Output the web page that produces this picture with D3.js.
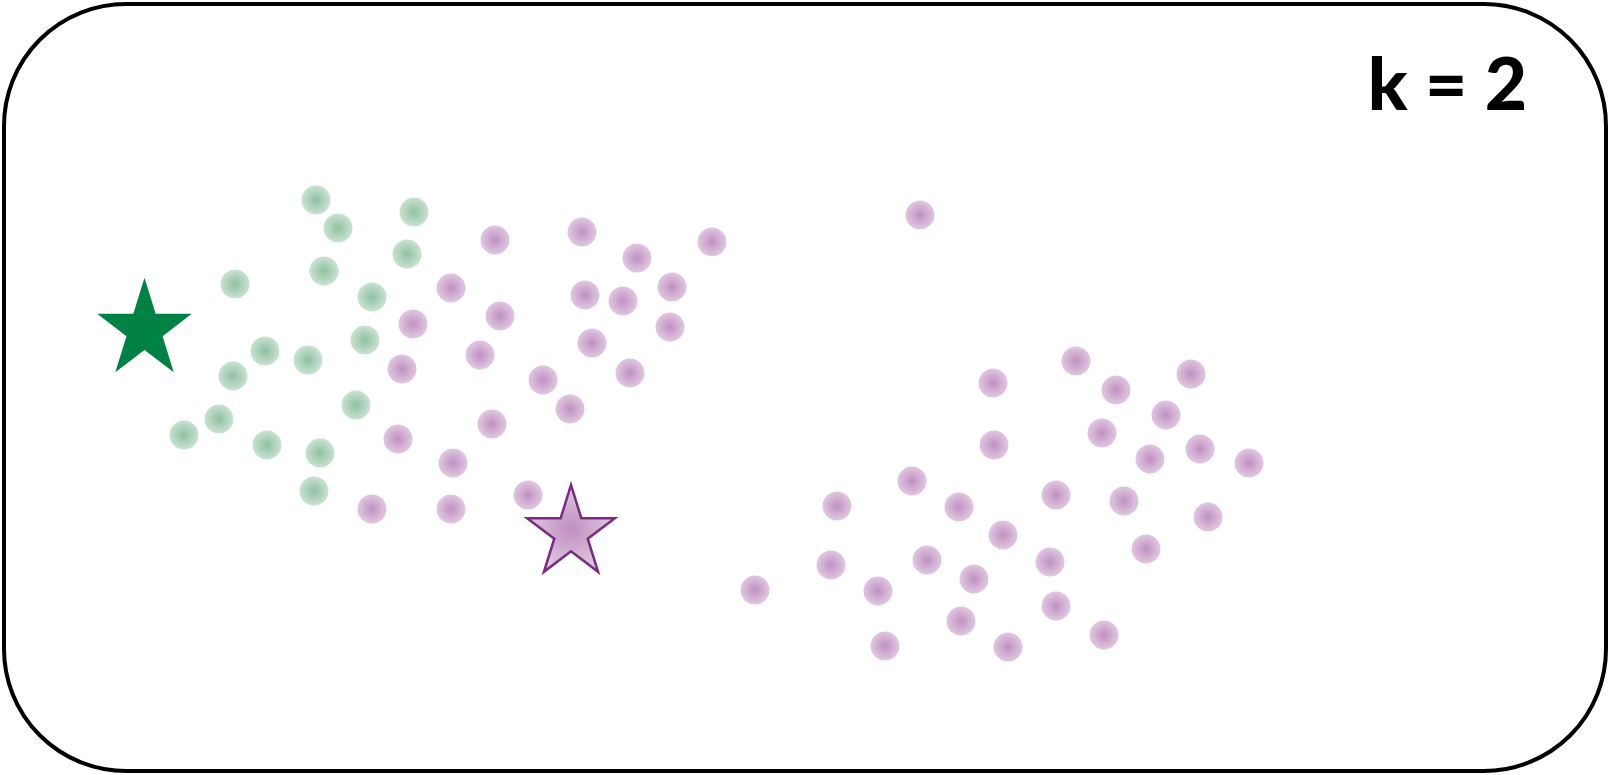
<!DOCTYPE html>
<html>
<head>
<meta charset="utf-8">
<script src="https://cdn.jsdelivr.net/npm/d3@7"></script>
<style>
html,body{margin:0;padding:0;background:#fff;}
svg{display:block;}
</style>
</head>
<body>
<svg id="chart" width="1610" height="775"></svg>
<script>
// Feature space: x from 0 to 16.1, y from 0 to 7.75 (y up)
const clusterA_x = [3.16,3.38,4.14,4.07,3.24,2.35,3.72,3.65,2.65,3.08,2.33,3.56,2.19,1.84,2.67,3.20,3.14];
const clusterA_y = [5.75,5.47,5.63,5.21,5.04,4.91,4.78,4.35,4.24,4.15,3.99,3.70,3.56,3.40,3.30,3.22,2.84];

const clusterB_x = [4.95,5.82,7.12,6.37,4.51,6.72,5.85,6.23,5.00,4.13,6.70,5.92,4.80,4.02,6.30,5.43,5.70,4.92,3.98,4.53,5.28,3.72,4.51,9.20,
  10.76,11.91,9.93,11.16,11.66,11.02,9.94,12.00,11.50,12.49,9.12,10.56,11.24,8.37,9.59,12.08,10.03,11.46,9.27,8.31,10.50,9.74,7.55,8.78,10.56,9.61,11.04,8.85,10.08];
const clusterB_y = [5.35,5.43,5.33,5.17,4.87,4.88,4.80,4.74,4.59,4.51,4.48,4.32,4.20,4.06,4.02,3.95,3.66,3.51,3.36,3.12,2.80,2.66,2.66,5.60,
  4.14,4.01,3.92,3.85,3.60,3.42,3.30,3.26,3.16,3.12,2.94,2.80,2.74,2.69,2.68,2.58,2.40,2.26,2.15,2.10,2.13,1.96,1.85,1.84,1.69,1.54,1.40,1.29,1.28];

const centroids_x = [1.445, 5.71];
const centroids_y = [4.45, 2.42];
const kLabel = "k = 2";

const W = 1610, H = 775;
const svg = d3.select("#chart");
const x = d3.scaleLinear().domain([0, 16.1]).range([0, W]);
const y = d3.scaleLinear().domain([0, 7.75]).range([H, 0]);

const defs = svg.append("defs");
function radial(id, c0, c1) {
  const g = defs.append("radialGradient").attr("id", id)
    .attr("cx", "50%").attr("cy", "50%").attr("r", "50%");
  g.append("stop").attr("offset", "0%").attr("stop-color", c0);
  g.append("stop").attr("offset", "100%").attr("stop-color", c1);
}
radial("gGreen", "#8fc1a2", "#c9e2d2");
radial("gPurple", "#c190c2", "#dfc8e0");
radial("gPurpleStar", "#c08fc1", "#dec8df");

// frame
svg.append("rect")
  .attr("x", 4).attr("y", 4).attr("width", W - 8).attr("height", H - 8)
  .attr("rx", 122).attr("ry", 122)
  .attr("fill", "#fff").attr("stroke", "#000").attr("stroke-width", 4);

const A = clusterA_x.map((v, i) => ({x: v, y: clusterA_y[i]}));
const B = clusterB_x.map((v, i) => ({x: v, y: clusterB_y[i]}));

svg.append("g").selectAll("circle").data(A).join("circle")
  .attr("cx", d => x(d.x)).attr("cy", d => y(d.y)).attr("r", 14.5)
  .attr("fill", "url(#gGreen)");
svg.append("g").selectAll("circle").data(B).join("circle")
  .attr("cx", d => x(d.x)).attr("cy", d => y(d.y)).attr("r", 14.5)
  .attr("fill", "url(#gPurple)");

function starPath(R, r, sx) {
  const pts = [];
  for (let i = 0; i < 10; i++) {
    const a = -Math.PI / 2 + i * Math.PI / 5;
    const rad = i % 2 === 0 ? R : r;
    pts.push([Math.cos(a) * rad * sx, Math.sin(a) * rad]);
  }
  return "M" + pts.map(p => p.join(",")).join("L") + "Z";
}

const stars = centroids_x.map((v, i) => ({x: v, y: centroids_y[i], i}));
svg.append("g").selectAll("path").data(stars).join("path")
  .attr("transform", d => `translate(${x(d.x)},${y(d.y)})`)
  .attr("d", d => d.i === 0 ? starPath(52.3, 20, 0.95) : starPath(48, 18.3, 0.96))
  .attr("fill", d => d.i === 0 ? "#008244" : "url(#gPurpleStar)")
  .attr("stroke", d => d.i === 0 ? "none" : "#7a2a82")
  .attr("stroke-width", 2.5)
  .attr("stroke-linejoin", "miter");

svg.append("text")
  .attr("x", 1527).attr("y", 110)
  .attr("text-anchor", "end")
  .attr("font-family", "Lato, 'DejaVu Sans', sans-serif")
  .attr("font-weight", 900)
  .attr("font-size", 73)
  .attr("fill", "#000")
  .text(kLabel);
</script>
</body>
</html>
